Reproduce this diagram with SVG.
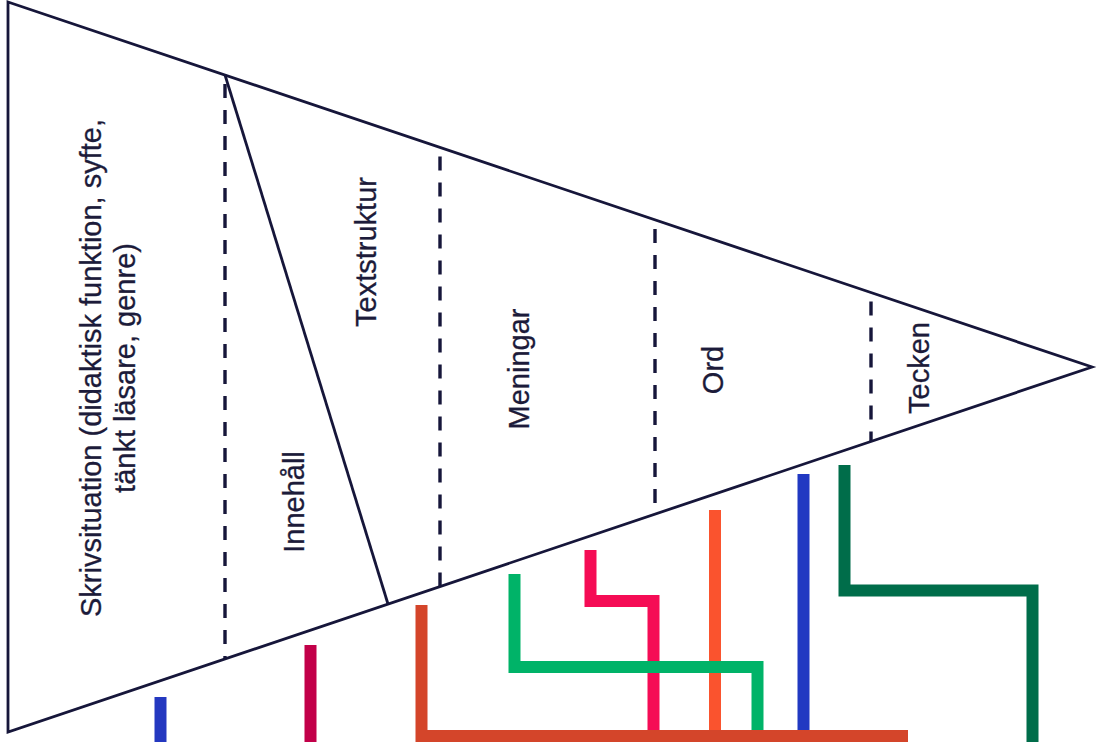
<svg xmlns="http://www.w3.org/2000/svg" width="1097" height="742" viewBox="0 0 1097 742">
  <style>
    .frame { fill: #ffffff; stroke: #16163a; stroke-width: 2.8; stroke-linejoin: miter; }
    .div { fill: none; stroke: #16163a; stroke-width: 2.8; }
    .dash { fill: none; stroke: #16163a; stroke-width: 3.4; stroke-dasharray: 14 12; stroke-dashoffset: -9; }
    .bar { fill: none; stroke-width: 12; stroke-linecap: butt; stroke-linejoin: miter; }
    .lbl { font-family: "Liberation Sans", Arial, sans-serif; font-size: 29px; fill: #1c1b3a; text-anchor: middle; stroke: #1c1b3a; stroke-width: 0.3; }
  </style>
  <rect width="1097" height="742" fill="#ffffff"/>

  <g id="funnel">
    <polygon class="frame" points="8,2 1092,367 8,732"/>
    <line class="div" x1="225" y1="75" x2="388" y2="604"/>
    <line class="dash" x1="225" y1="75" x2="225" y2="659"/>
    <line class="dash" x1="440" y1="147.5" x2="440" y2="586.5"/>
    <line class="dash" x1="655" y1="220" x2="655" y2="514"/>
    <line class="dash" x1="871" y1="292.6" x2="871" y2="441"/>
  </g>

  <g id="node-skrivsituation">
    <text class="lbl" transform="translate(101,368) rotate(-90)">Skrivsituation (didaktisk funktion, syfte,</text>
    <text class="lbl" transform="translate(135,368) rotate(-90)">tänkt läsare, genre)</text>
  </g>
  <g id="node-innehall">
    <text class="lbl" transform="translate(304,502) rotate(-90)">Innehåll</text>
  </g>
  <g id="node-textstruktur">
    <text class="lbl" transform="translate(376,252) rotate(-90)">Textstruktur</text>
  </g>
  <g id="node-meningar">
    <text class="lbl" transform="translate(529,369) rotate(-90)">Meningar</text>
  </g>
  <g id="node-ord">
    <text class="lbl" transform="translate(723,370) rotate(-90)">Ord</text>
  </g>
  <g id="node-tecken">
    <text class="lbl" transform="translate(929,368) rotate(-90)">Tecken</text>
  </g>

  <g id="connectors">
    <polyline class="bar" stroke="#2438c0" points="160.5,697 160.5,742"/>
    <polyline class="bar" stroke="#c20049" points="310.5,645 310.5,742"/>
    <polyline class="bar" stroke="#f50c55" points="590.5,550 590.5,601 653.5,601 653.5,736"/>
    <polyline class="bar" stroke="#fa532e" points="715,510 715,736"/>
    <polyline class="bar" stroke="#2139c2" points="803.5,474 803.5,736"/>
    <polyline class="bar" stroke="#006d4a" points="844.5,465 844.5,590.5 1032.5,590.5 1032.5,742"/>
    <polyline class="bar" stroke="#00b368" points="514.5,574 514.5,667 757.5,667 757.5,736"/>
    <polyline class="bar" stroke="#d4452a" points="421.5,605 421.5,736 908,736"/>
  </g>
</svg>
